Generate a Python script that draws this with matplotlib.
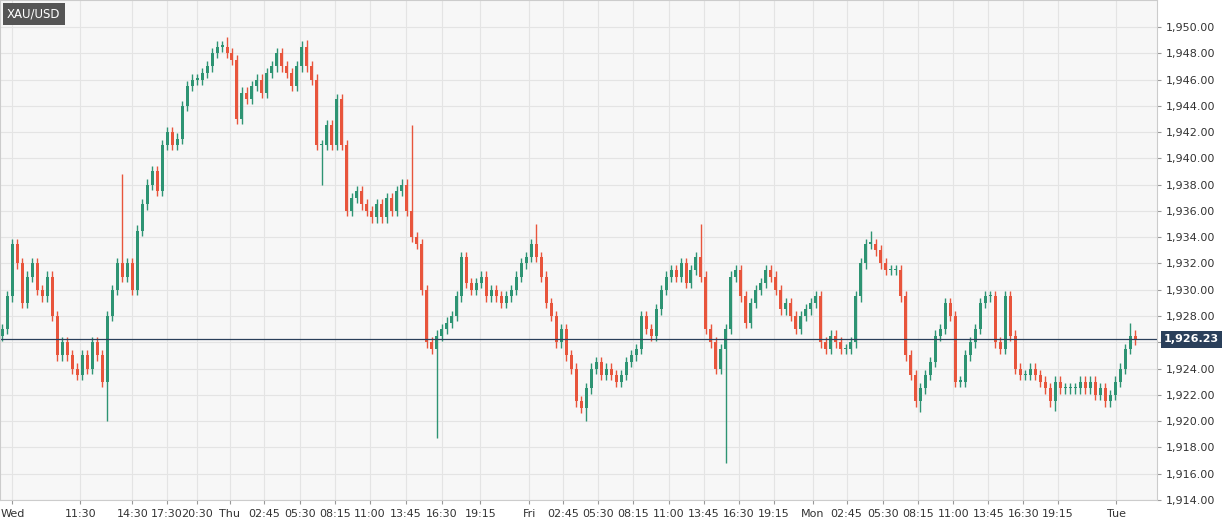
import matplotlib
matplotlib.use("Agg")
import matplotlib.pyplot as plt
from matplotlib.patches import Rectangle

closes = [1927,1929.5,1933.5,1932,1929,1931,1932,1930,1929.5,1931,1928,1925,1926,1925,1924,1923.5,1925,1924,1926,1925,
1923,1928,1930,1932,1931,1932,1930,1934.5,1936.5,1938,1939,1937.5,1941,1942,1941,1941.5,1944,1945.5,1946,1946,
1946.5,1947,1948,1948.5,1948.5,1948,1947.5,1943,1945,1944.5,1945.5,1946,1945,1946.5,1947,1948,1947,1946.5,1945.5,1947,
1948.5,1947,1946,1941,1941,1942.5,1941,1944.5,1941,1936,1937,1937.5,1936.5,1936,1935.5,1936.5,1935.5,1937,1936,1937.5,
1938,1936,1934,1933.5,1930,1926,1925.5,1926.5,1927,1927.5,1928,1929.5,1932.5,1930.5,1930,1930.5,1931,1929.5,1930,1929.5,
1929,1929.5,1930,1931,1932,1932.5,1933.5,1932.5,1931,1929,1928,1926,1927,1925,1924,1921.5,1921,1922.5,1924,1924.5,
1923.5,1924,1923.5,1923,1923.5,1924.5,1925,1925.5,1928,1927,1926.5,1928.5,1930,1931,1931.5,1931,1932,1930.5,1931.5,1932.5,
1931,1927,1926,1924,1925.5,1927,1931,1931.5,1929.5,1927.5,1929,1930,1930.5,1931.5,1931,1930,1928.5,1929,1928,1927,
1928,1928.5,1929,1929.5,1926,1925.5,1926.5,1926,1925.5,1925.5,1926,1929.5,1932,1933.5,1933.5,1933,1932,1931.5,1931.5,1931.5,
1929.5,1925,1923.5,1921.5,1922.5,1923.5,1924.5,1926.5,1927,1929,1928,1923,1923,1925,1926,1927,1929,1929.5,1929.5,1926,
1925.5,1929.5,1926.5,1924,1923.5,1923.5,1924,1923.5,1923,1922.5,1921.5,1923,1922.5,1922.5,1922.5,1922.5,1923,1922.5,1923,1922,
1922.5,1921.5,1922,1923,1924,1925.5,1926.5,1926.23]
first_open = 1926.5
spike_high = {24: 1938.8, 45: 1949.2, 61: 1949.0, 82: 1942.5, 107: 1935.0, 140: 1935.0, 174: 1934.5, 226: 1927.5}
spike_low = {21: 1920.0, 64: 1938.0, 87: 1918.7, 117: 1920.0, 145: 1916.8, 184: 1920.7, 211: 1920.8}
last_price = 1926.23
tick_labels = ["Wed","11:30","14:30","17:30","20:30","Thu","02:45","05:30","08:15","11:00","13:45","16:30","19:15",
               "Fri","02:45","05:30","08:15","11:00","13:45","16:30","19:15","Mon","02:45","05:30","08:15","11:00",
               "13:45","16:30","19:15","Tue"]
tick_pos = [2,15.6,26,33.0,39.0,45.6,52.4,59.6,66.6,73.6,80.8,88,95.8,105.6,112.4,119.4,126.4,133.6,140.6,147.6,154.6,
            162.4,169.2,176.4,183.6,190.6,197.6,204.6,211.6,223.2]

fig = plt.figure(figsize=(12.29,5.27), dpi=100)
fig.patch.set_facecolor("white")
ax = fig.add_axes([0.0, 0.0512, 0.9414, 0.9488])
ax.set_facecolor("#f7f7f7")
up, dn = "#2e9473", "#e8553c"
opens = [first_open] + closes[:-1]
for i, (o, c) in enumerate(zip(opens, closes)):
    col = up if c >= o else dn
    hi = spike_high.get(i, max(o, c) + 0.4)
    lo = spike_low.get(i, min(o, c) - 0.4)
    ax.vlines(i, lo, hi, color=col, lw=1)
    b = max(abs(c - o), 0.1)
    ax.add_patch(Rectangle((i - 0.3, min(o, c)), 0.6, b, color=col, lw=0))
ax.axhline(last_price, color="#2a3f5a", lw=0.9)
ax.set_xlim(-0.5, 231.4)
ax.set_ylim(1914, 1952.05)
yt = list(range(1914, 1951, 2))
ax.set_yticks(yt)
ax.set_yticklabels(["" if v == 1926 else f"{v:,}.00" for v in yt], fontsize=8, color="#333333")
ax.yaxis.tick_right()
ax.set_xticks(tick_pos)
ax.set_xticklabels(tick_labels, fontsize=8, color="#333333")
ax.grid(True, color="#e4e4e4", lw=0.8)
ax.set_axisbelow(True)
ax.tick_params(length=3, color="#999999")
for s in ax.spines.values():
    s.set_color("#cccccc")
ax.text(0.006, 0.985, "XAU/USD", transform=ax.transAxes, ha="left", va="top", color="white", fontsize=8.5,
        bbox=dict(boxstyle="square,pad=0.35", fc="#555555", ec="none"))
ax.text(1.006, last_price, f"{last_price:,.2f}", transform=ax.get_yaxis_transform(), ha="left", va="center",
        color="white", fontsize=8, fontweight="bold", bbox=dict(boxstyle="square,pad=0.3", fc="#2a3f5a", ec="none"))
fig.savefig("out.png", dpi=100)
